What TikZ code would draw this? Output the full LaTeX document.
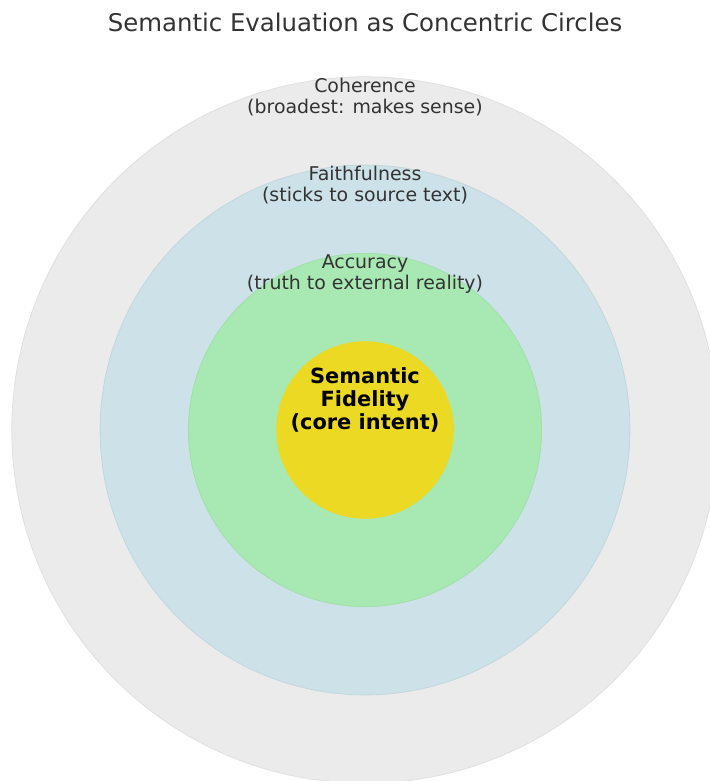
\documentclass[tikz,border=0pt]{standalone}
\usepackage{fontspec}
\setmainfont{DejaVu Sans}
\usetikzlibrary{positioning}
\newcommand\R{88.3}

\definecolor{cohfill}{HTML}{EBEBEB}
\definecolor{cohedge}{HTML}{E0E0E0}
\definecolor{faifill}{HTML}{CCE2E8}
\definecolor{accfill}{HTML}{A8E8B2}
\definecolor{semfill}{HTML}{ECD924}
\definecolor{txtgray}{HTML}{333333}

\begin{document}
\begin{tikzpicture}[x=1bp,y=-1bp,
                    every node/.style={inner sep=0pt,outer sep=0pt}]

  \tikzstyle{ring}=[circle,draw,line width=0.8bp]
  \tikzstyle{label}=[align=center,text=txtgray,font=\fontsize{19}{21}\selectfont]

  \useasboundingbox (0,0) rectangle (710,781);
  \clip (0,0) rectangle (710,781);
  \fill[white] (0,0) rectangle (710,781);

  \node[label,font=\fontsize{24.5}{28}\selectfont] (TTL) at (365,22) {Semantic Evaluation as Concentric Circles};

  \node[ring,fill=cohfill,draw=cohedge,minimum size=8*\R bp] (COH) at (365,430) {};
  \node[ring,fill=faifill,draw=faifill!95!black,minimum size=6*\R bp] (FAI) at (365,430) {};
  \node[ring,fill=accfill,draw=accfill!96!black,minimum size=4*\R bp] (ACC) at (365,430) {};
  \node[ring,fill=semfill,draw=semfill,minimum size=2*\R bp] (SEM) at (365,430) {};

  \node[label,below=1bp of COH.north] (COHL) {Coherence\\(broadest: makes sense)};
  \node[label,below=1bp of FAI.north] (FAIL) {Faithfulness\\(sticks to source text)};
  \node[label,below=1bp of ACC.north] (ACCL) {Accuracy\\(truth to external reality)};
  \node[align=center,font=\bfseries\fontsize{21}{23.5}\selectfont] (SEML) at (365,400) {Semantic\\Fidelity\\(core intent)};
\end{tikzpicture}
\end{document}
